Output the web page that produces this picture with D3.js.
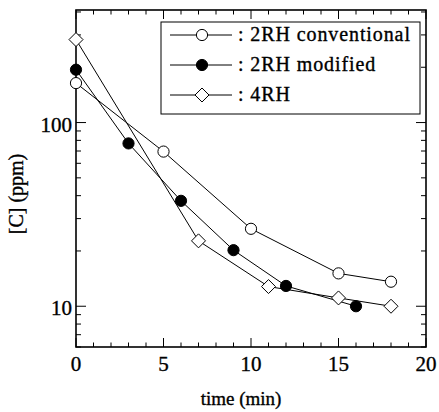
<!DOCTYPE html>
<html>
<head>
<meta charset="utf-8">
<script src="https://cdn.jsdelivr.net/npm/d3@7"></script>
<style>
  body { margin: 0; background: #fff; }
  text { font-family: "Liberation Serif", serif; fill: #000; stroke: #000; stroke-width: 0.35px; }
</style>
</head>
<body>
<div id="chart"></div>
<script>
// time (min) and [C] (ppm)
var tConv = [0, 5, 10, 15, 18];
var cConv = [164, 69.5, 26.4, 15.1, 13.6];
var tMod = [0, 3, 6, 9, 12, 16];
var cMod = [194, 77, 37.5, 20.2, 12.9, 10];
var t4rh = [0, 7, 11, 15, 18];
var c4rh = [283, 22.7, 12.8, 11.1, 10];

var seriesNames = ["2RH conventional", "2RH modified", "4RH"];
var seriesMarks = ["open", "filled", "diamond"];
var xTicks = [0, 5, 10, 15, 20];
var yTicks = [10, 100];

var width = 439, height = 412,
    margin = {top: 10, right: 13, bottom: 65, left: 76};

var svg = d3.select("#chart")
    .append("svg")
    .attr("width", width)
    .attr("height", height);

var x = d3.scaleLinear()
    .domain([0, 20])
    .range([margin.left, width - margin.right]);

var y = d3.scaleLog()
    .domain([6, 410])
    .range([height - margin.bottom, margin.top]);

var x0 = x.range()[0], x1 = x.range()[1],
    y0 = y.range()[0], y1 = y.range()[1];

// minor ticks
var xMinor = d3.range(0, 21, 1);
var yMinor = [];
[1, 10, 100].forEach(function(p) {
  for (var k = 1; k < 10; k++) {
    var v = p * k;
    if (v >= 6 && v <= 410) yMinor.push(v);
  }
});

var ticks = svg.append("g").attr("stroke", "#000").attr("stroke-width", 1);

xMinor.forEach(function(v) {
  var len = (v % 5 === 0) ? 9 : 4.5;
  ticks.append("line").attr("x1", x(v)).attr("x2", x(v)).attr("y1", y0).attr("y2", y0 - len);
  ticks.append("line").attr("x1", x(v)).attr("x2", x(v)).attr("y1", y1).attr("y2", y1 + len);
});

yMinor.forEach(function(v) {
  var len = (yTicks.indexOf(v) >= 0) ? 10 : 5;
  ticks.append("line").attr("x1", x0).attr("x2", x0 + len).attr("y1", y(v)).attr("y2", y(v));
  ticks.append("line").attr("x1", x1).attr("x2", x1 - len).attr("y1", y(v)).attr("y2", y(v));
});

// frame
svg.append("rect")
    .attr("x", x0).attr("y", y1)
    .attr("width", x1 - x0).attr("height", y0 - y1)
    .attr("fill", "none").attr("stroke", "#000").attr("stroke-width", 1.6);

// tick labels
svg.append("g").selectAll("text").data(xTicks).enter().append("text")
    .attr("x", function(d) { return x(d); })
    .attr("y", 371)
    .attr("text-anchor", "middle")
    .style("font-size", "21px")
    .text(function(d) { return d; });

svg.append("g").selectAll("text").data(yTicks).enter().append("text")
    .attr("x", x0 - 4)
    .attr("y", function(d) { return y(d) + 9; })
    .attr("text-anchor", "end")
    .style("font-size", "21px")
    .text(function(d) { return d; });

// axis titles
svg.append("text")
    .attr("x", 241).attr("y", 405)
    .attr("text-anchor", "middle")
    .style("font-size", "19px")
    .text("time (min)");

svg.append("text")
    .attr("transform", "translate(23,194) rotate(-90)")
    .attr("text-anchor", "middle")
    .style("font-size", "20px")
    .text("[C] (ppm)");

// series
var series = [
  {t: tConv, c: cConv, mark: seriesMarks[0]},
  {t: tMod, c: cMod, mark: seriesMarks[1]},
  {t: t4rh, c: c4rh, mark: seriesMarks[2]}
];

var line = d3.line()
    .x(function(d) { return x(d[0]); })
    .y(function(d) { return y(d[1]); });

function drawMark(g, kind, cx, cy) {
  if (kind === "diamond") {
    var s = 7;
    g.append("path")
      .attr("d", "M" + cx + "," + (cy - s) + "L" + (cx + s) + "," + cy +
                 "L" + cx + "," + (cy + s) + "L" + (cx - s) + "," + cy + "Z")
      .attr("fill", "#fff").attr("stroke", "#000").attr("stroke-width", 1);
  } else {
    g.append("circle")
      .attr("cx", cx).attr("cy", cy).attr("r", 5.6)
      .attr("fill", kind === "filled" ? "#000" : "#fff")
      .attr("stroke", "#000").attr("stroke-width", 1);
  }
}

var lines = svg.append("g");
series.forEach(function(s) {
  var pts = d3.zip(s.t, s.c);
  lines.append("path")
    .attr("d", line(pts))
    .attr("fill", "none")
    .attr("stroke", "#000")
    .attr("stroke-width", 1);
});

var marks = svg.append("g");
series.forEach(function(s) {
  d3.zip(s.t, s.c).forEach(function(p) {
    drawMark(marks, s.mark, x(p[0]), y(p[1]));
  });
});

// legend
var leg = svg.append("g");
leg.append("rect")
    .attr("x", 161).attr("y", 22)
    .attr("width", 259).attr("height", 92)
    .attr("fill", "#fff").attr("stroke", "#000").attr("stroke-width", 1);

seriesNames.forEach(function(name, i) {
  var ly = 35 + i * 30;
  leg.append("line")
    .attr("x1", 170).attr("x2", 232).attr("y1", ly).attr("y2", ly)
    .attr("stroke", "#000").attr("stroke-width", 1);
  drawMark(leg, seriesMarks[i], 202, ly);
  leg.append("text")
    .attr("x", 238).attr("y", ly + 6)
    .style("font-size", "20px")
    .style("letter-spacing", "0.9px")
    .text(": " + name);
});
</script>
</body>
</html>
